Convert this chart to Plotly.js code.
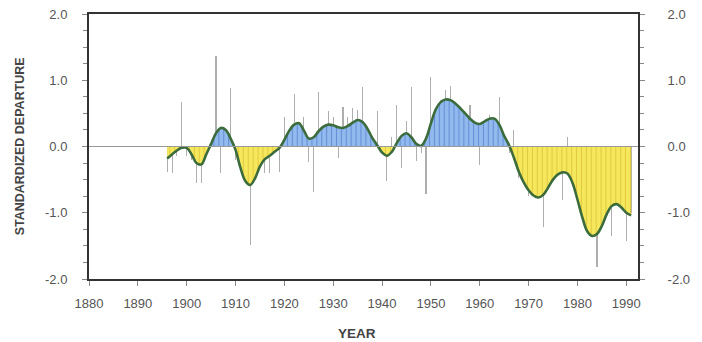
<!DOCTYPE html>
<html>
<head>
<meta charset="utf-8">
<script src="https://cdn.plot.ly/plotly-3.0.1.min.js"></script>
<style>html,body{margin:0;padding:0;background:#fff;}#chart{width:702px;height:342px;}</style>
</head>
<body>
<div id="chart"></div>
<script>
// Annual standardized departures (thin grey bars)
const years = [1896,1897,1898,1899,1900,1901,1902,1903,1904,1905,1906,1907,1908,1909,1910,1911,1912,1913,1914,1915,1916,1917,1918,1919,1920,1921,1922,1923,1924,1925,1926,1927,1928,1929,1930,1931,1932,1933,1934,1935,1936,1937,1938,1939,1940,1941,1942,1943,1944,1945,1946,1947,1948,1949,1950,1951,1952,1953,1954,1955,1956,1957,1958,1959,1960,1961,1962,1963,1964,1965,1966,1967,1968,1969,1970,1971,1972,1973,1974,1975,1976,1977,1978,1979,1980,1981,1982,1983,1984,1985,1986,1987,1988,1989,1990,1991];
const annual = [-0.38,-0.40,-0.15,0.67,-0.15,-0.20,-0.55,-0.55,-0.10,0.10,1.36,-0.40,0.20,0.89,-0.20,-0.35,-0.45,-1.48,-0.30,-0.25,-0.40,-0.40,-0.10,-0.38,0.45,0.20,0.80,0.30,0.45,-0.24,-0.68,0.83,0.20,0.53,0.45,-0.17,0.60,0.45,0.58,0.55,0.90,0.20,0.10,0.54,-0.05,-0.52,0.15,0.62,-0.32,0.38,0.90,-0.22,-0.10,-0.72,1.05,0.40,0.70,0.85,0.92,0.60,0.55,0.50,0.62,0.30,-0.28,0.35,0.48,0.40,0.74,0.10,-0.10,0.25,-0.48,-0.40,-0.75,-0.60,-0.70,-1.22,-0.55,-0.50,-0.40,-0.80,0.15,-0.45,-0.70,-1.00,-1.20,-1.10,-1.82,-1.20,-0.95,-1.35,-0.80,-0.90,-1.42,-1.00];
// Smoothed curve values
const smooth = [-0.18,-0.12,-0.06,-0.02,-0.02,-0.12,-0.25,-0.27,-0.12,0.04,0.20,0.28,0.25,0.12,-0.05,-0.32,-0.52,-0.58,-0.48,-0.30,-0.19,-0.14,-0.08,-0.02,0.10,0.24,0.33,0.35,0.24,0.12,0.14,0.23,0.30,0.33,0.32,0.29,0.28,0.31,0.36,0.40,0.37,0.27,0.13,0.02,-0.09,-0.14,-0.08,0.05,0.16,0.20,0.14,0.04,0.01,0.12,0.35,0.56,0.67,0.71,0.70,0.65,0.58,0.50,0.42,0.36,0.34,0.38,0.42,0.42,0.33,0.16,0.02,-0.17,-0.38,-0.54,-0.66,-0.74,-0.77,-0.73,-0.62,-0.50,-0.42,-0.39,-0.41,-0.55,-0.80,-1.07,-1.28,-1.35,-1.32,-1.20,-1.02,-0.90,-0.87,-0.92,-1.00,-1.04];
// Tick labels
const yTicksTop = [0, 1, 2];
const yTextTop = ['0.0', '1.0', '2.0'];
const yTicksBottom = [-2, -1];
const yTextBottom = ['-2.0', '-1.0'];
const xTickStart = 1880;
const xTickStep = 10;

const FONT = 'Liberation Sans, Arial, Helvetica, sans-serif';
const BLUE = 'rgb(146,186,238)', BLUE_HATCH = 'rgb(100,142,214)';
const YEL = 'rgb(246,232,92)', YEL_HATCH = 'rgb(224,203,64)';
const CURVE = 'rgb(60,108,60)';
const BARC = 'rgba(160,160,160,0.85)';

function barTrace(xa, ya) {
  return {type:'bar', x:years, y:annual, xaxis:xa, yaxis:ya, width:0.22,
    marker:{color:BARC, line:{width:0}}, hoverinfo:'skip', showlegend:false};
}
function fillTrace(xa, ya, bg, fg) {
  return {type:'scatter', mode:'lines', x:years, y:smooth, xaxis:xa, yaxis:ya,
    fill:'tozeroy', fillcolor:bg,
    fillpattern:{shape:'|', bgcolor:bg, fgcolor:fg, size:4.9, solidity:0.22},
    line:{color:CURVE, width:2.6, shape:'spline', smoothing:1}, hoverinfo:'skip', showlegend:false};
}

// bars on the left axes (drawn first), filled smooth curve on the overlaying right axes (drawn on top)
const data = [
  barTrace('x', 'y'),
  barTrace('x2', 'y2'),
  fillTrace('x', 'y3', YEL, YEL_HATCH),
  fillTrace('x2', 'y4', BLUE, BLUE_HATCH)
];

const axLine = '#333';
const tickC = '#888';
const tickFont = {family:FONT, size:13, color:'#555'};
const xRange = [1880, 1992.4];
const minorY = {tickmode:'linear', tick0:0, dtick:0.25, ticks:'outside', ticklen:4, tickcolor:tickC};

function yAx(extra) {
  return Object.assign({ticks:'outside', ticklen:5, tickcolor:tickC, showline:true, linecolor:axLine, linewidth:2,
    showgrid:false, zeroline:false, tickfont:tickFont, tickmode:'array', minor:minorY}, extra);
}

const layout = {
  width:702, height:342,
  margin:{l:89, r:64, t:14, b:63},
  paper_bgcolor:'#fff', plot_bgcolor:'#fff',
  bargap:0, barmode:'overlay',
  showlegend:false,
  xaxis:{domain:[0,1], anchor:'y', range:xRange, tick0:xTickStart, dtick:xTickStep,
    ticks:'outside', ticklen:5, tickcolor:tickC, showline:true, linecolor:axLine, linewidth:2,
    showgrid:false, zeroline:false, tickfont:tickFont, ticklabelstandoff:6},
  xaxis2:{domain:[0,1], anchor:'y2', matches:'x', range:xRange, side:'top', showticklabels:false,
    ticks:'', showline:true, linecolor:axLine, linewidth:2, showgrid:false, zeroline:false},
  yaxis:yAx({domain:[0,0.5], anchor:'x', range:[-2,0], tickvals:yTicksBottom, ticktext:yTextBottom, ticklabelstandoff:12}),
  yaxis2:yAx({domain:[0.5,1], anchor:'x2', range:[0,2], tickvals:yTicksTop, ticktext:yTextTop, ticklabelstandoff:12}),
  yaxis3:yAx({overlaying:'y', side:'right', anchor:'x', range:[-2,0], tickvals:yTicksBottom, ticktext:yTextBottom, ticklabelstandoff:20}),
  yaxis4:yAx({overlaying:'y2', side:'right', anchor:'x2', range:[0,2], tickvals:yTicksTop, ticktext:yTextTop, ticklabelstandoff:20}),
  shapes:[{type:'line', xref:'paper', yref:'paper', x0:0, x1:1, y0:0.5, y1:0.5,
    line:{color:'#999', width:1}, layer:'above'}],
  annotations:[
    {text:'<b>STANDARDIZED DEPARTURE</b>', xref:'paper', yref:'paper', x:-0.126, y:0.5,
      xanchor:'center', yanchor:'middle', textangle:-90, showarrow:false,
      font:{family:FONT, size:12.5, color:'#444'}},
    {text:'<b>YEAR</b>', xref:'paper', yref:'paper', x:0.488, y:-0.204,
      xanchor:'center', yanchor:'middle', showarrow:false,
      font:{family:FONT, size:13.5, color:'#444'}}
  ]
};

Plotly.newPlot('chart', data, layout, {staticPlot:true, displayModeBar:false});
</script>
</body>
</html>
